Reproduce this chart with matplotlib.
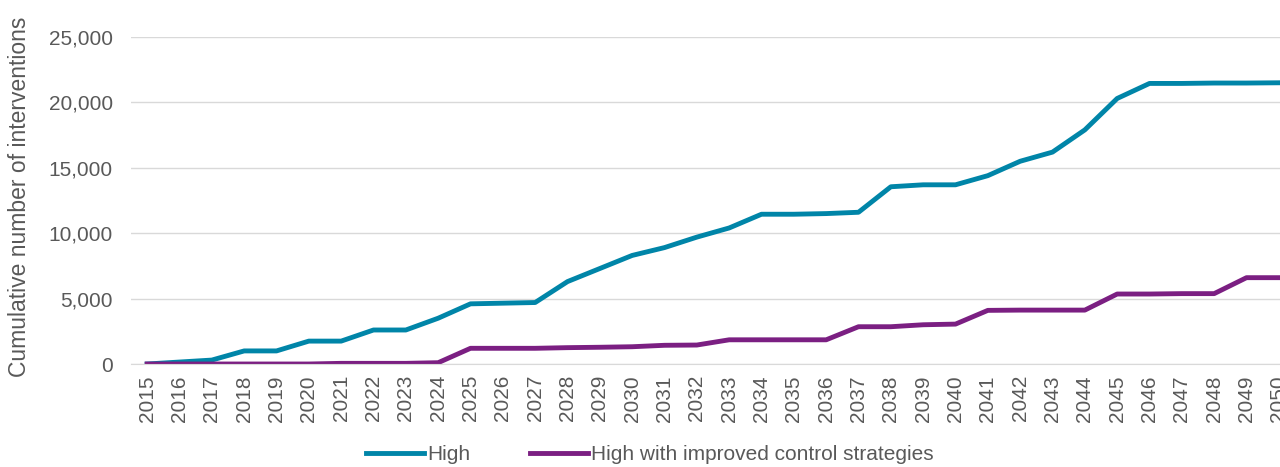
import numpy as np
import matplotlib.pyplot as plt

plt.rcParams['font.family'] = ['Liberation Sans', 'DejaVu Sans']

years = [str(y) for y in range(2015, 2051)]
high = [0, 150, 300, 1000, 1000, 1750, 1750, 2600, 2600, 3500,
        4600, 4650, 4700, 6300, 7300, 8300, 8900, 9700, 10400, 11450,
        11450, 11500, 11600, 13550, 13700, 13700, 14400, 15500, 16200, 17900,
        20300, 21450, 21450, 21480, 21480, 21500]
high_ics = [0, 0, 0, 0, 0, 0, 50, 50, 50, 100,
            1200, 1200, 1200, 1250, 1280, 1320, 1430, 1450, 1850, 1850,
            1850, 1850, 2850, 2850, 3000, 3050, 4100, 4120, 4120, 4120,
            5350, 5350, 5380, 5380, 6600, 6600]

grey = '#595959'
fig = plt.figure(figsize=(12.8, 4.67), dpi=100)
ax = fig.add_axes([131 / 1280, 1 - 364 / 467, (1295 - 131) / 1280, (364 - 37) / 467])

x = np.arange(len(years))
ax.plot(x, high, color='#0085A8', lw=3.5, label='High', solid_joinstyle='round')
ax.plot(x, high_ics, color='#7B1F82', lw=3.5, label='High with improved control strategies',
        solid_joinstyle='round')

ax.set_xlim(-0.5, len(years) - 0.5)
ax.set_ylim(0, 25000)
ax.set_yticks(range(0, 25001, 5000))
ax.set_yticklabels([f'{v:,}' for v in range(0, 25001, 5000)])
ax.set_xticks(x)
ax.set_xticklabels(years, rotation=90)
ax.tick_params(axis='both', colors=grey, labelsize=15, length=0)
ax.tick_params(axis='y', pad=13)
ax.tick_params(axis='x', pad=8)
ax.grid(axis='y', color='#D9D9D9', lw=1)
ax.set_axisbelow(True)
for s in ['top', 'right', 'left']:
    ax.spines[s].set_visible(False)
ax.spines['bottom'].set_color('#D9D9D9')
ax.set_ylabel('Cumulative number of interventions', color=grey, fontsize=16.5)
ax.yaxis.set_label_coords(-0.086, 0.51)

fig.legend(loc='center', bbox_to_anchor=(650 / 1280, 1 - 455 / 467), ncol=2, frameon=False,
           fontsize=15, labelcolor=grey, handlelength=2.75, handletextpad=0.15, columnspacing=2.9)

fig.savefig('out.png', dpi=100)
